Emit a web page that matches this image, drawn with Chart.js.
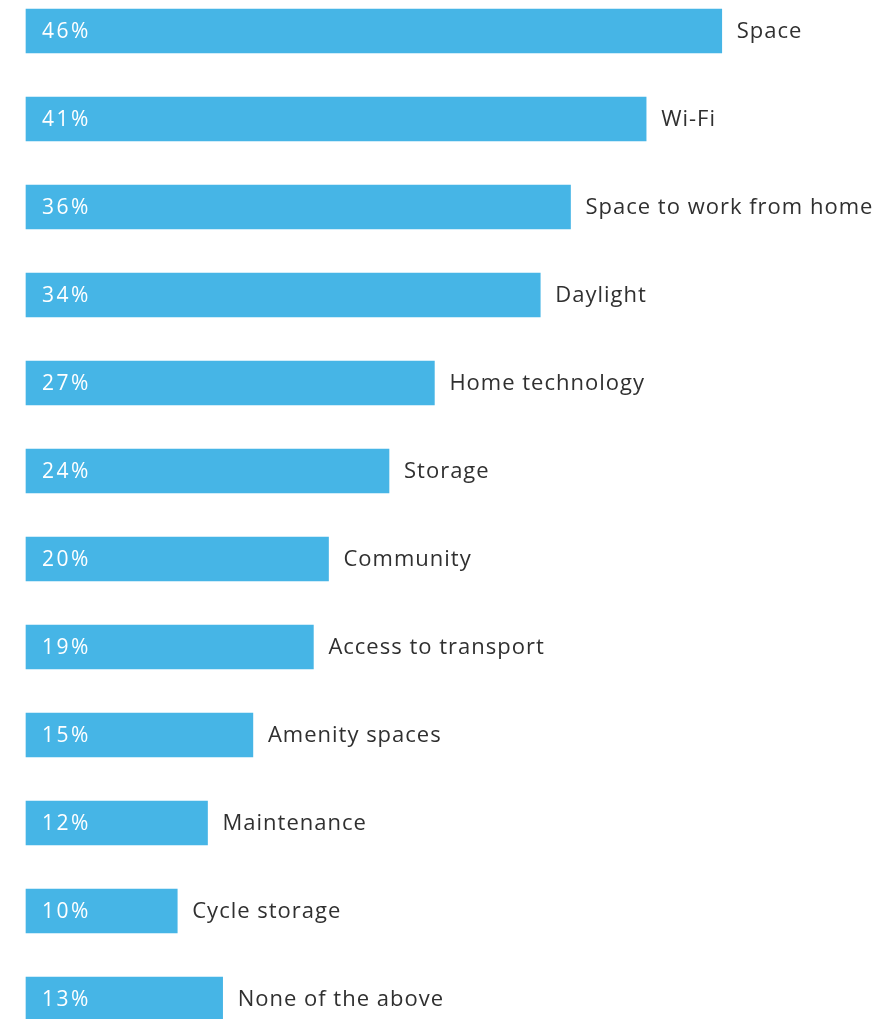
<!DOCTYPE html>
<html>
<head>
<meta charset="utf-8">
<script src="https://cdn.jsdelivr.net/npm/chart.js@4"></script>
<style>
  html, body { margin: 0; padding: 0; background: #ffffff; }
  #wrap { width: 881px; height: 1019px; position: relative; }
</style>
</head>
<body>
<div id="wrap"><canvas id="chart"></canvas></div>
<script>
// Share of respondents naming each home feature
const categories = [
  'Space', 'Wi-Fi', 'Space to work from home', 'Daylight', 'Home technology',
  'Storage', 'Community', 'Access to transport', 'Amenity spaces',
  'Maintenance', 'Cycle storage', 'None of the above'
];
const shares = [46, 41, 36, 34, 27, 24, 20, 19, 15, 12, 10, 13];
const valueLabels = shares.map(v => v + '%');

const BAR_BLUE = '#46b5e6';
const FONT = "'Open Sans', sans-serif";

// Writes the percentage inside each bar and the category name just past its end
const barLabels = {
  id: 'barLabels',
  afterDatasetsDraw(chart) {
    const { ctx, scales } = chart;
    const meta = chart.getDatasetMeta(0);
    ctx.save();
    ctx.textBaseline = 'middle';
    ctx.textAlign = 'left';
    meta.data.forEach((bar, i) => {
      const y = bar.y;
      const x0 = scales.x.getPixelForValue(0);
      const x1 = scales.x.getPixelForValue(shares[i]);
      ctx.font = '21px ' + FONT;
      ctx.letterSpacing = '2.5px';
      ctx.fillStyle = '#ffffff';
      ctx.fillText(valueLabels[i], x0 + 16, y + 1);
      ctx.font = '22px ' + FONT;
      ctx.letterSpacing = '1px';
      ctx.fillStyle = '#303030';
      ctx.fillText(categories[i], x1 + 15, y + 1);
    });
    ctx.restore();
  }
};

new Chart(document.getElementById('chart'), {
  type: 'bar',
  data: {
    labels: categories,
    datasets: [{
      data: shares,
      backgroundColor: BAR_BLUE,
      borderWidth: 0,
      barThickness: 44,
      clip: false
    }]
  },
  options: {
    indexAxis: 'y',
    responsive: true,
    maintainAspectRatio: false,
    animation: false,
    layout: { padding: { left: 26, right: 8, top: 31, bottom: 20 } },
    plugins: {
      legend: { display: false },
      tooltip: { enabled: false }
    },
    scales: {
      x: {
        min: 0,
        max: 56,
        display: false,
        grid: { display: false }
      },
      y: {
        display: false,
        offset: false,
        grid: { display: false }
      }
    }
  },
  plugins: [barLabels]
});
</script>
</body>
</html>
